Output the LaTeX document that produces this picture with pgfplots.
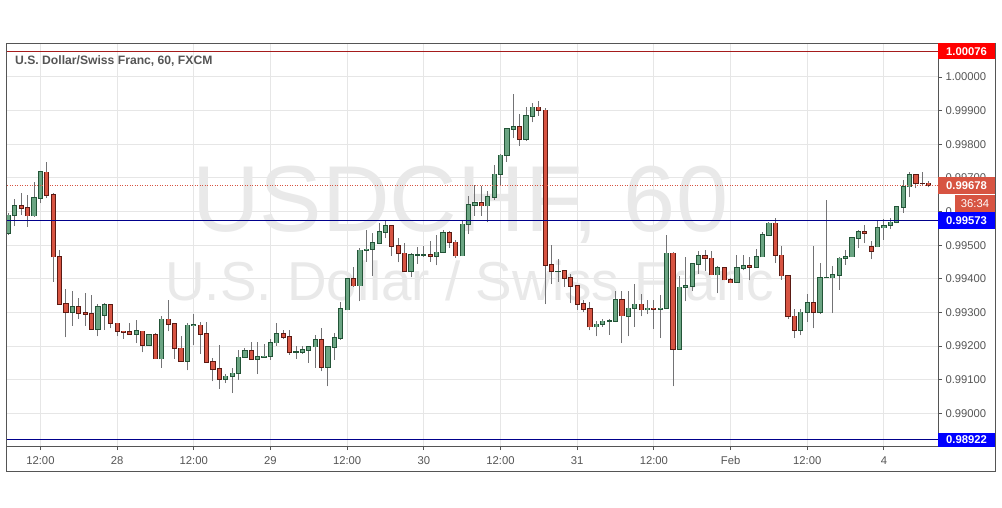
\documentclass[border=0pt]{standalone}
\usepackage{fontspec}
\setmainfont{Liberation Sans}
\usepackage{pgfplots}
\usepackage{pgfplotstable}
\pgfplotsset{compat=1.18}

\definecolor{upf}{HTML}{6BA583}
\definecolor{upb}{HTML}{225437}
\definecolor{dnf}{HTML}{D75442}
\definecolor{dnb}{HTML}{5B1A13}
\definecolor{wick}{HTML}{737375}
\definecolor{gridc}{HTML}{E6E6E6}
\definecolor{axisc}{HTML}{555555}
\definecolor{labc}{HTML}{555555}
\definecolor{lred}{HTML}{A51B1B}
\definecolor{boxred}{HTML}{FF0000}
\definecolor{lblue}{HTML}{00008C}
\definecolor{boxblue}{HTML}{0000FF}
\definecolor{wm}{HTML}{E9E9E9}

% hourly candles, index = bar number
\pgfplotstableread{
i o h l c
0 0.99536 0.99595 0.99531 0.99589
1 0.99589 0.99637 0.99557 0.99617
4 0.99588 0.99688 0.99585 0.99640
5 0.99640 0.99720 0.99625 0.99718
10 0.99300 0.99364 0.99261 0.99316
14 0.99251 0.99326 0.99229 0.99316
15 0.99292 0.99328 0.99249 0.99322
20 0.99235 0.99278 0.99209 0.99245
22 0.99203 0.99236 0.99199 0.99233
24 0.99163 0.99288 0.99136 0.99280
28 0.99155 0.99270 0.99128 0.99262
29 0.99262 0.99296 0.99204 0.99263
34 0.99102 0.99117 0.99090 0.99110
35 0.99110 0.99134 0.99060 0.99119
36 0.99119 0.99189 0.99100 0.99167
37 0.99167 0.99195 0.99167 0.99186
39 0.99161 0.99211 0.99117 0.99168
40 0.99167 0.99207 0.99167 0.99170
41 0.99170 0.99222 0.99159 0.99210
42 0.99210 0.99268 0.99201 0.99237
45 0.99182 0.99199 0.99162 0.99182
46 0.99182 0.99199 0.99177 0.99188
47 0.99188 0.99201 0.99150 0.99198
48 0.99198 0.99232 0.99135 0.99218
50 0.99138 0.99200 0.99080 0.99198
51 0.99196 0.99239 0.99159 0.99224
52 0.99224 0.99330 0.99219 0.99310
53 0.99308 0.99402 0.99306 0.99399
55 0.99380 0.99491 0.99333 0.99485
56 0.99485 0.99544 0.99451 0.99488
57 0.99488 0.99536 0.99409 0.99506
58 0.99506 0.99565 0.99503 0.99539
59 0.99539 0.99572 0.99521 0.99557
63 0.99422 0.99476 0.99404 0.99471
64 0.99471 0.99494 0.99445 0.99471
65 0.99471 0.99499 0.99466 0.99471
67 0.99468 0.99530 0.99440 0.99479
68 0.99479 0.99544 0.99476 0.99536
71 0.99469 0.99573 0.99467 0.99562
72 0.99562 0.99647 0.99533 0.99619
73 0.99619 0.99679 0.99588 0.99625
75 0.99617 0.99661 0.99568 0.99643
76 0.99643 0.99738 0.99635 0.99711
77 0.99711 0.99771 0.99676 0.99767
78 0.99767 0.99847 0.99748 0.99845
79 0.99845 0.99948 0.99818 0.99852
81 0.99815 0.99912 0.99811 0.99884
82 0.99884 0.99922 0.99865 0.99910
86 0.99422 0.99458 0.99392 0.99422
92 0.99258 0.99276 0.99229 0.99265
93 0.99265 0.99281 0.99258 0.99274
94 0.99275 0.99280 0.99233 0.99275
95 0.99275 0.99363 0.99271 0.99337
97 0.99288 0.99365 0.99229 0.99312
98 0.99312 0.99385 0.99258 0.99324
100 0.99308 0.99338 0.99295 0.99312
102 0.99310 0.99352 0.99224 0.99312
103 0.99313 0.99531 0.99310 0.99476
105 0.99191 0.99407 0.99189 0.99375
106 0.99375 0.99466 0.99333 0.99379
107 0.99379 0.99447 0.99365 0.99444
108 0.99444 0.99484 0.99415 0.99469
111 0.99412 0.99437 0.99357 0.99432
114 0.99390 0.99471 0.99389 0.99432
115 0.99432 0.99471 0.99425 0.99438
117 0.99435 0.99488 0.99434 0.99466
118 0.99466 0.99538 0.99465 0.99530
119 0.99530 0.99570 0.99529 0.99565
124 0.99248 0.99310 0.99232 0.99300
125 0.99300 0.99354 0.99273 0.99328
127 0.99300 0.99447 0.99296 0.99403
128 0.99403 0.99635 0.99402 0.99403
129 0.99403 0.99437 0.99298 0.99411
130 0.99411 0.99466 0.99367 0.99461
131 0.99461 0.99486 0.99442 0.99466
132 0.99466 0.99524 0.99465 0.99521
133 0.99521 0.99546 0.99491 0.99539
136 0.99496 0.99573 0.99494 0.99552
137 0.99552 0.99577 0.99516 0.99558
138 0.99560 0.99582 0.99548 0.99568
139 0.99568 0.99617 0.99565 0.99613
140 0.99613 0.99694 0.99597 0.99674
141 0.99674 0.99719 0.99642 0.99710
}\upbars

\pgfplotstableread{
i o h l c
2 0.99616 0.99656 0.99590 0.99610
3 0.99610 0.99649 0.99555 0.99588
6 0.99717 0.99746 0.99640 0.99649
7 0.99649 0.99656 0.99392 0.99466
8 0.99466 0.99486 0.99323 0.99325
9 0.99325 0.99369 0.99226 0.99301
11 0.99316 0.99343 0.99281 0.99298
12 0.99298 0.99357 0.99261 0.99295
13 0.99295 0.99351 0.99249 0.99251
16 0.99322 0.99324 0.99253 0.99268
17 0.99268 0.99270 0.99229 0.99244
18 0.99244 0.99244 0.99222 0.99241
19 0.99242 0.99270 0.99234 0.99236
21 0.99244 0.99245 0.99181 0.99203
23 0.99233 0.99239 0.99161 0.99163
25 0.99280 0.99337 0.99244 0.99265
26 0.99266 0.99268 0.99163 0.99193
27 0.99193 0.99231 0.99153 0.99155
30 0.99262 0.99271 0.99177 0.99236
31 0.99236 0.99271 0.99150 0.99153
32 0.99153 0.99164 0.99095 0.99132
33 0.99132 0.99204 0.99073 0.99102
38 0.99185 0.99211 0.99161 0.99161
43 0.99237 0.99249 0.99221 0.99227
44 0.99227 0.99249 0.99175 0.99182
49 0.99218 0.99254 0.99125 0.99138
54 0.99399 0.99435 0.99377 0.99380
60 0.99557 0.99558 0.99469 0.99498
61 0.99498 0.99521 0.99449 0.99476
62 0.99476 0.99506 0.99420 0.99422
66 0.99472 0.99513 0.99451 0.99468
69 0.99536 0.99541 0.99491 0.99508
70 0.99508 0.99516 0.99463 0.99469
74 0.99625 0.99676 0.99588 0.99617
80 0.99852 0.99889 0.99796 0.99815
83 0.99910 0.99929 0.99884 0.99902
84 0.99901 0.99907 0.99325 0.99441
85 0.99441 0.99501 0.99384 0.99422
87 0.99423 0.99427 0.99377 0.99402
88 0.99402 0.99414 0.99328 0.99379
89 0.99379 0.99382 0.99308 0.99325
90 0.99325 0.99338 0.99301 0.99310
91 0.99310 0.99330 0.99247 0.99258
96 0.99337 0.99365 0.99209 0.99290
99 0.99324 0.99356 0.99288 0.99308
101 0.99312 0.99338 0.99251 0.99310
104 0.99476 0.99481 0.99080 0.99191
109 0.99469 0.99486 0.99424 0.99461
110 0.99461 0.99484 0.99410 0.99412
112 0.99432 0.99435 0.99395 0.99397
113 0.99397 0.99402 0.99387 0.99389
116 0.99438 0.99466 0.99395 0.99435
120 0.99565 0.99580 0.99447 0.99470
121 0.99470 0.99498 0.99397 0.99409
122 0.99409 0.99410 0.99280 0.99288
123 0.99288 0.99310 0.99224 0.99248
126 0.99328 0.99498 0.99253 0.99300
134 0.99539 0.99560 0.99506 0.99536
135 0.99496 0.99511 0.99458 0.99482
142 0.99710 0.99712 0.99669 0.99684
143 0.99684 0.99719 0.99679 0.99684
144 0.99684 0.99692 0.99672 0.99678
}\downbars

\pgfplotsset{
  candle/.style={draw=none, mark=none,
    error bars/.cd, y dir=plus, y explicit, error mark=none,
    error bar style={solid, line cap=butt, #1}},
}

\begin{document}
\begin{tikzpicture}
\useasboundingbox (0,0) rectangle (1002bp,-508bp);
\fill[white] (0,0) rectangle (1002bp,-508bp);
\begin{axis}[
    at={(6.5bp,-446bp)}, anchor=south west,
    scale only axis, width=931.5bp, height=403bp,
    xmin=-0.31, xmax=145.46,
    ymin=0.98903, ymax=1.00101,
    axis line style={draw=axisc, line width=0.9bp},
    grid=major,
    major grid style={draw=gridc, line width=1bp},
    xtick={5,17,29,41,53,65,77,89,101,113,125,137},
    xticklabels={12:00,28,12:00,29,12:00,30,12:00,31,12:00,Feb,12:00,4},
    ytick={0.990,0.991,0.992,0.993,0.994,0.995,0.996,0.997,0.998,0.999,1.000},
    xtick pos=left, ytick pos=right, yticklabel pos=right,
    tick align=outside, major tick length=4bp,
    tick style={draw=axisc, line width=0.9bp},
    ticklabel style={font=\fontsize{11.3}{13}\selectfont, text=labc},
    xticklabel style={yshift=-3bp},
    yticklabel style={/pgf/number format/.cd, fixed, fixed zerofill, precision=5},
    /pgf/number format/assume math mode=true,
]
% watermark
\node[anchor=base, text=wm, font=\fontsize{94}{94}\selectfont] at (axis cs:70.7,0.995395) {USDCHF, 60};
\node[anchor=base, text=wm, font=\fontsize{55}{55}\selectfont] at (axis cs:72.2,0.993346) {U.S. Dollar / Swiss Franc};

% wicks
\addplot[candle={draw=wick, line width=1bp}] table[x=i, y=l, y error plus expr=\thisrow{h}-\thisrow{l}] {\upbars};
\addplot[candle={draw=wick, line width=1bp}] table[x=i, y=l, y error plus expr=\thisrow{h}-\thisrow{l}] {\downbars};
% bodies: border then fill
\addplot[candle={draw=upb, line width=5.2bp}] table[x=i, y expr=\thisrow{o}-0.00002, y error plus expr=\thisrow{c}-\thisrow{o}+0.00004] {\upbars};
\addplot[candle={draw=upf, line width=3.2bp}] table[x=i, y=o, y error plus expr=\thisrow{c}-\thisrow{o}] {\upbars};
\addplot[candle={draw=dnb, line width=5.2bp}] table[x=i, y expr=\thisrow{c}-0.00002, y error plus expr=\thisrow{o}-\thisrow{c}+0.00004] {\downbars};
\addplot[candle={draw=dnf, line width=3.2bp}] table[x=i, y=c, y error plus expr=\thisrow{o}-\thisrow{c}] {\downbars};

% levels
\addplot[lred, line width=1bp] coordinates {(-1,1.00076) (147,1.00076)};
\addplot[lblue, line width=1bp] coordinates {(-1,0.99573) (147,0.99573)};
\addplot[lblue, line width=1bp] coordinates {(-1,0.98922) (147,0.98922)};
\addplot[dnf, line width=0.8bp, dash pattern=on 1bp off 1.5bp] coordinates {(-1,0.99678) (147,0.99678)};

\coordinate (L1) at (axis cs:145.46,1.00076);
\coordinate (L2) at (axis cs:145.46,0.99678);
\coordinate (L3) at (axis cs:145.46,0.99573);
\coordinate (L4) at (axis cs:145.46,0.98922);
\end{axis}

% outer frame
\draw[axisc, line width=0.9bp] (6.5bp,-43bp) rectangle (995bp,-471bp);

% title
\node[anchor=west, text=labc, font=\bfseries\fontsize{12.2}{14}\selectfont, inner sep=0pt] at (15bp,-61.5bp) {U.S. Dollar/Swiss Franc, 60, FXCM};

% price boxes
\tikzset{pbox/.style={anchor=west, inner sep=0pt, minimum width=56.5bp, minimum height=16bp, text=white, font=\bfseries\fontsize{11.3}{13}\selectfont}}
\node[pbox, fill=boxred] at (L1) {1.00076};
\node[pbox, fill=dnf, minimum height=17bp] at (L2) {0.99678};
\node[anchor=center, inner sep=0pt, minimum width=39.5bp, minimum height=16.5bp, fill=dnf, text=white, font=\fontsize{11.3}{13}\selectfont] at (975bp,-203.5bp) {36:34};
\node[pbox, fill=boxblue, minimum height=17bp] at (L3) {0.99573};
\node[pbox, fill=boxblue, minimum height=14bp] at (L4) {0.98922};
\end{tikzpicture}
\end{document}
